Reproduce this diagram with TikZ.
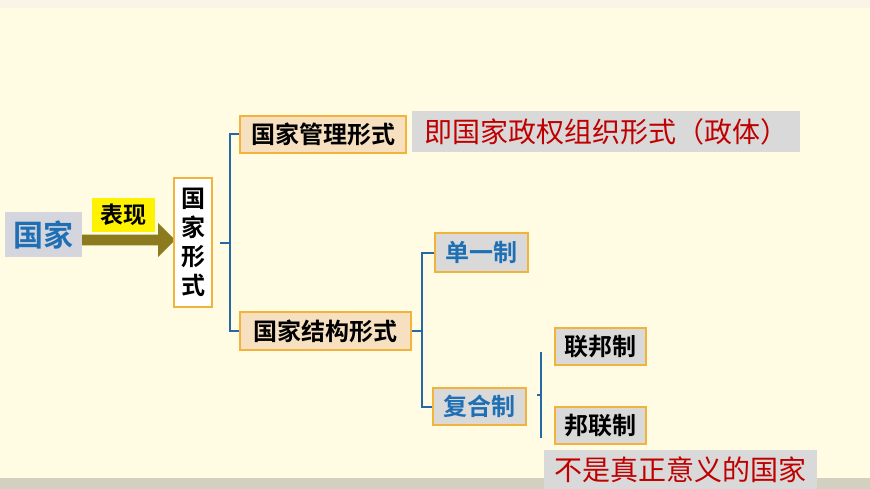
\documentclass[tikz,border=0pt]{standalone}
\usepackage{fontspec}
\setmainfont{Noto Sans CJK SC}[BoldFont={Noto Sans CJK SC Bold}]
\usetikzlibrary{shapes.arrows}
\definecolor{bg}{HTML}{FFFCE3}
\definecolor{ob}{HTML}{F2B33D}
\definecolor{peach}{HTML}{F6E0C0}
\definecolor{gbox}{HTML}{D9D9D9}
\definecolor{bluet}{HTML}{1F6FB5}
\definecolor{redt}{HTML}{C00000}
\definecolor{olive}{HTML}{8C7A1E}
\definecolor{brk}{HTML}{2468A8}
\begin{document}
\begin{tikzpicture}[x=1pt,y=-1pt,
  bx/.style={draw=ob,line width=1.5pt,inner sep=0pt,font=\bfseries\fontsize{24}{26}\selectfont},
  brl/.style={draw=brk,line width=2pt},
  note/.style={fill=gbox,text=redt,inner sep=0pt,font=\fontsize{28}{30}\selectfont}]
\fill[bg] (0,0) rectangle (870,489);
\fill[bg!80!brown!40] (0,0) rectangle (870,8);
\fill[gray!35!bg] (0,478) rectangle (870,489);
\node[fill=blue!10!gray!30,text=bluet,inner sep=0pt,minimum width=77,minimum height=45,font=\bfseries\fontsize{30}{32}\selectfont] (gj) at (43.5,234.5) {国家};
\node[single arrow,fill=olive,minimum height=93,minimum width=34,single arrow head extend=7,inner sep=3pt,anchor=west] (arr) at (82,240) {};
\node[fill=yellow,inner sep=0pt,minimum width=63,minimum height=34,font=\bfseries\fontsize{23}{25}\selectfont] (bx1) at (123.5,215) {表现};
\node[bx,fill=white,minimum width=38,minimum height=129,align=center,font=\bfseries\fontsize{24}{29}\selectfont] (xs) at (193,242.5) {国\\家\\形\\式};
\node[bx,fill=peach,minimum width=166,minimum height=37] (gl) at (323,134.5) {国家管理形式};
\node[note,minimum width=388,minimum height=41] (n1) at (606,131.5) {即国家政权组织形式（政体）};
\node[bx,fill=peach,minimum width=171,minimum height=38] (jg) at (325.5,331) {国家结构形式};
\node[bx,fill=gbox,text=bluet,minimum width=93,minimum height=39] (dy) at (481.5,252.5) {单一制};
\node[bx,fill=gbox,text=bluet,minimum width=93,minimum height=37] (fh) at (479.5,406.5) {复合制};
\node[bx,fill=gbox,minimum width=91,minimum height=37] (lb) at (600.5,346.5) {联邦制};
\node[bx,fill=gbox,minimum width=91,minimum height=37] (bl) at (600.5,425.5) {邦联制};
\node[note,minimum width=273,minimum height=39] (n2) at (680.5,469.5) {不是真正意义的国家};
\draw[brl] ([xshift=7]xs.east) -- (230,242.5);
\draw[brl] (gl.west) -- (230,134.5) -- (230,331) -- (jg.west);
\draw[brl] (jg.east) -- (422,331);
\draw[brl] (dy.west) -- (422,252.5) -- (422,406.5) -- (fh.west);
\draw[brl] (541,352) -- (541,438);
\draw[brl] (541,395) -- (537,395);
\end{tikzpicture}
\end{document}
